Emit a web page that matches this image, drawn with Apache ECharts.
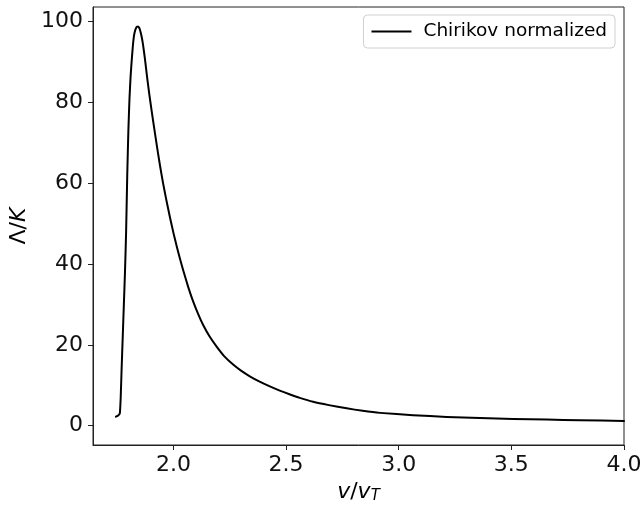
<!DOCTYPE html>
<html>
<head>
<meta charset="utf-8">
<script src="https://cdn.jsdelivr.net/npm/echarts@6/dist/echarts.min.js"></script>
<style>html,body{margin:0;padding:0;background:#fff}#c{width:642px;height:508px}</style>
</head>
<body>
<div id="c"></div>
<script>
var seriesName = 'Chirikov normalized';
var xValues = [1.745, 1.755, 1.762, 1.766, 1.770, 1.775, 1.780, 1.785, 1.790, 1.795, 1.800, 1.805, 1.810, 1.815, 1.820, 1.825, 1.830, 1.835, 1.838, 1.842, 1.846, 1.850, 1.858, 1.865, 1.873, 1.883, 1.893, 1.903, 1.915, 1.925, 1.940, 1.954, 1.968, 1.984, 2.000, 2.014, 2.030, 2.043, 2.065, 2.087, 2.110, 2.132, 2.160, 2.191, 2.225, 2.265, 2.300, 2.339, 2.385, 2.428, 2.472, 2.515, 2.561, 2.620, 2.690, 2.769, 2.840, 2.917, 3.064, 3.213, 3.360, 3.508, 3.657, 3.805, 4.000];
var yValues = [2.2, 2.5, 3.0, 7, 14, 22, 30, 38, 48, 62, 73, 81, 86.5, 90.5, 94, 96.5, 97.8, 98.5, 98.7, 98.8, 98.6, 98.2, 96.5, 94.3, 91, 86.3, 82, 78, 73.5, 69.8, 64.5, 60, 56.0, 51.7, 47.7, 44.5, 41.1, 38.5, 34.4, 30.8, 27.6, 24.9, 22.1, 19.6, 17.2, 15.1, 13.6, 12.2, 10.8, 9.7, 8.65, 7.75, 6.86, 5.9, 5.07, 4.27, 3.66, 3.15, 2.58, 2.15, 1.9, 1.65, 1.5, 1.33, 1.16];
var xTicks = [2.0, 2.5, 3.0, 3.5, 4.0];
var yTicks = [0, 20, 40, 60, 80, 100];

var data = xValues.map(function (x, i) { return [x, yValues[i]]; });
var chart = echarts.init(document.getElementById('c'), null, {renderer: 'canvas'});
var font = 'DejaVu Sans';
chart.setOption({
  animation: false,
  backgroundColor: '#fff',
  grid: {left: 93, right: 18, top: 7, bottom: 63, containLabel: false, outerBoundsMode: 'none',
    show: true, borderColor: '#222', borderWidth: 1},
  legend: {
    data: [{name: seriesName, icon: 'rect'}], right: 27, top: 15,
    backgroundColor: '#fff', borderColor: '#d0d0d0', borderWidth: 1, borderRadius: 4,
    padding: [7, 8, 7, 8], itemWidth: 40, itemHeight: 2,
    itemStyle: {color: '#000', borderWidth: 0},
    textStyle: {fontFamily: font, fontSize: 18.5, color: '#000', padding: [0, 0, 0, 7], lineHeight: 19}
  },
  xAxis: {
    type: 'value', min: 1.643, max: 4.0,
    name: '{i|v}/{i|v}{s|T}', nameLocation: 'middle', nameGap: 36,
    nameTextStyle: {fontFamily: font, fontSize: 22, color: '#000',
      rich: {i: {fontFamily: font, fontStyle: 'italic', fontSize: 22}, s: {fontFamily: font, fontStyle: 'italic', fontSize: 15, verticalAlign: 'bottom', padding: [8, 0, 0, 0]}}},
    axisLine: {show: true, onZero: false, lineStyle: {color: '#222', width: 1}},
    splitLine: {show: false},
    axisTick: {show: true, length: 5, customValues: xTicks, lineStyle: {color: '#222'}},
    axisLabel: {customValues: xTicks, margin: 9, fontFamily: font, fontSize: 22, color: '#111',
      formatter: function (v) { return v.toFixed(1); }}
  },
  yAxis: {
    type: 'value', min: -4.8, max: 103.6,
    name: '{n|Λ}/{i|K}', nameLocation: 'middle', nameGap: 63, nameRotate: 90,
    nameTextStyle: {fontFamily: font, fontSize: 22, color: '#000',
      rich: {n: {fontFamily: font, fontSize: 22}, i: {fontFamily: font, fontStyle: 'italic', fontSize: 22}}},
    axisLine: {show: true, onZero: false, lineStyle: {color: '#222', width: 1}},
    splitLine: {show: false},
    axisTick: {show: true, length: 5, customValues: yTicks, lineStyle: {color: '#222'}},
    axisLabel: {customValues: yTicks, margin: 10, fontFamily: font, fontSize: 22, color: '#111'}
  },
  series: [{
    name: seriesName, type: 'line', data: data, symbol: 'none', smooth: 0.15,
    lineStyle: {color: '#000', width: 2, join: 'round', cap: 'round'}, itemStyle: {color: '#000'}
  }]
});
</script>
</body>
</html>
